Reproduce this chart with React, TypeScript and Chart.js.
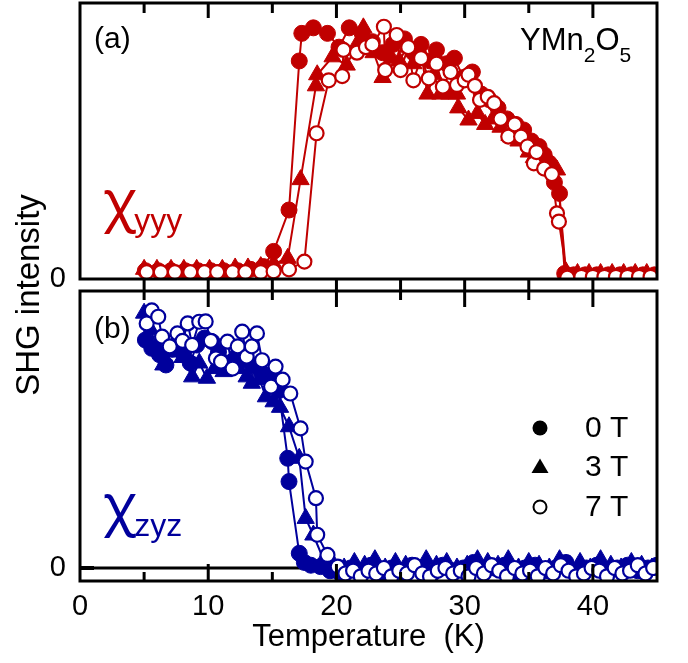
import React, { useEffect, useRef } from 'react';
import { Chart, registerables } from 'chart.js';
Chart.register(...registerables);

const RED = '#C00000';
const BLUE = '#00009C';
const FONT = "'Liberation Sans', Arial, Helvetica, sans-serif";
const GREEK = "'Noto Sans', 'DejaVu Sans', sans-serif";

// ---- axes ----
const xMin = 0;
const xMax = 45;
const xLabeled = [0, 10, 20, 30, 40];
const xMinorTicks = [5, 10, 15, 20, 25, 30, 35, 40];
const yTickValues = [0];
const seriesLabels = ['0 T', '3 T', '7 T'];

// ---- panel (a): chi_yyy ----
const aT0 = [5.1,6.1,7.1,8.2,9.2,10.2,11.2,12.3,13.3,14.3,15.1,16.3,17.1,17.3,18.2,19.3,20.2,21.0,22.0,22.8,23.6,24.4,25.3,26.0,26.6,27.3,27.8,28.6,29.2,29.9,30.6,31.3,31.9,32.6,33.3,34.0,34.6,35.2,35.8,36.2,36.6,37.0,37.4,37.8,38.5,39.4,40.3,41.2,42.1,43.0,43.9,44.8];
const aV0 = [3,3,3,3,3,3,3,3,3.5,4.5,10,25,79,89,91,89,84,91,89,86,82,85,87,82,85,79,83,78,80,73,75,67,65,62,58,56,54,50,48,45,42,35,31,2,1.5,1.5,1.5,1.5,1.5,1.5,1.5,1.5];
const aT3 = [5.0,6.0,7.1,8.1,9.1,10.1,11.1,12.1,13.1,14.1,15.1,16.2,17.2,18.4,18.5,19.7,20.8,21.6,22.1,22.9,23.6,24.3,24.9,25.5,26.0,26.6,27.1,27.6,28.1,28.8,29.4,29.5,30.3,31.0,31.6,32.2,32.8,33.5,34.2,35.0,35.4,36.0,36.6,37.2,37.9,38.8,39.7,40.6,41.5,42.4,43.3,44.2];
const aV3 = [3.5,3.5,3.5,3.5,3.5,3.5,3.5,4,4,4.5,5.5,7.5,36,70,74,80.5,77.5,85,91,82,73,80,79,84,78,82,67,74,67,67,67,62,57.6,60,56,58,55,52,50,46,44,44,41,39.5,2.6,2,2,2,2,2,2,2];
const aT7 = [5.2,6.3,7.4,8.6,9.7,10.7,11.9,12.9,14.1,15.1,16.3,17.5,18.45,19.4,20.45,20.55,21.6,22.3,22.8,23.7,23.8,24.7,25.0,25.6,26.0,26.6,27.2,27.8,28.3,28.9,29.4,30.0,30.3,30.8,31.2,31.8,32.3,32.8,33.4,33.9,34.4,34.9,35.4,35.6,36.2,36.8,37.2,37.35,38.0,39.1,40.0,40.9,41.8,42.7,43.6,44.5];
const aV7 = [2.5,2.5,2.5,2.5,2.5,2.5,2.5,2.5,2.5,2.8,3.5,6.3,52.8,72,73.5,83,82,84,85,91.4,75.7,88.4,75.7,84,72,80,72.7,78,69.7,75,70.3,72,74,70,64.9,66,63.7,58,51.6,56,51.6,48,41.9,46,40,38,23.8,20.8,0.5,0.8,0.8,0.8,0.8,0.8,0.8,0.8];

// ---- panel (b): chi_zyz ----
const bT0 = [5.1,5.6,6.2,6.7,7.2,7.6,8.1,8.6,9.1,9.7,10.3,10.8,11.4,12.0,12.5,13.0,13.5,14.1,14.6,15.1,15.5,16.2,16.3,17.1,17.5,18.0,18.75,19.5,20.3,21.1,21.9,22.7,23.5,24.3,25.1,25.9,26.7,27.5,28.3,29.1,29.9,30.7,31.5,32.3,33.1,33.9,34.7,35.5,36.3,37.1,37.9,38.7,39.5,40.3,41.1,41.9,42.7,43.5,44.3,45.0];
const bV0 = [82.3,79.3,77,73.3,79,81.1,77,74,80.5,83,81.7,78,74,75,78,75,73,70.9,69,68,64,39.6,31.2,5.3,2,1,0.5,-1,-2,0,-1,1,-2,0,-1,1,0,-2,1,-1,0,2,-1,0,1,-2,0,1,-1,0,2,-1,0,1,-2,0,1,-1,0,1];
const bT3 = [5.0,5.5,6.0,6.5,7.0,7.5,8.0,8.75,9.3,9.9,10.5,11.2,11.8,12.4,13.0,13.4,14.0,14.5,15.1,15.6,16.3,17.1,17.6,18.2,19.0,19.8,20.6,21.4,22.2,23.0,23.8,24.6,25.4,26.2,27.0,27.8,28.6,29.4,30.2,31.0,31.8,32.6,33.4,34.2,35.0,35.8,36.6,37.4,38.2,39.0,39.8,40.6,41.4,42.2,43.0,43.8,44.6];
const bV3 = [92,86,80,73.3,78,82,76,69,74,68.5,72,70.9,75,72,69,66.7,68,61.8,60,58,51,39.6,17.9,11.9,3,1,0,2,1,3,0,2,1,0,3,1,2,0,1,3,2,1,3,0,2,1,0,3,1,2,0,3,1,0,2,1,0];
const bT7 = [5.2,5.6,6.1,6.4,7.0,7.6,8.0,8.4,8.75,9.3,9.8,10.2,10.6,11.0,11.5,11.9,12.3,12.65,13.0,13.4,13.8,14.2,14.9,15.25,15.8,16.4,17.2,17.6,18.4,18.5,19.3,20.1,20.7,21.3,21.9,22.5,23.1,23.7,24.3,24.9,25.5,26.1,26.7,27.3,27.9,28.5,29.1,29.7,30.3,30.9,31.5,32.1,32.7,33.3,33.9,34.5,35.1,35.7,36.3,36.9,37.5,38.1,38.7,39.3,39.9,40.5,41.1,41.7,42.3,42.9,43.5,44.1,44.7];
const bV7 = [88.3,93,90.7,83.5,80,84.7,82,88.3,80.5,88.9,89,82,75.7,74.5,81.7,72,80,85.3,76.3,80,84.7,75,65.5,72.7,68,63,50.4,38.4,25.2,12,4.7,0.5,-2,-1,-3,-1,-2,0,-3,-1,-2,1,-2,-3,-1,0,-2,-1,-3,0,-2,1,-1,-3,0,-2,-1,-3,0,-2,1,-1,-3,-2,0,-1,-3,0,-2,-1,1,-2,0];

type Style = 'filled' | 'tri' | 'open';

function ds(label: string, xs: number[], ys: number[], color: string, style: Style) {
  return {
    label,
    data: xs.map((x, i) => ({ x, y: ys[i] })),
    borderColor: color,
    borderWidth: 2,
    pointStyle: style === 'tri' ? 'triangle' : 'circle',
    pointRadius: style === 'tri' ? 10 : style === 'open' ? 7 : 8,
    pointBorderWidth: style === 'open' ? 2.2 : 1,
    pointBackgroundColor: style === 'open' ? '#ffffff' : color,
    pointBorderColor: color,
    fill: false,
    tension: 0,
    clip: 0,
  };
}

function txt(ctx: CanvasRenderingContext2D, s: string, x: number, y: number, size: number, color: string, align: CanvasTextAlign = 'left', base: CanvasTextBaseline = 'alphabetic', family: string = FONT) {
  ctx.font = `${size}px ${family}`;
  ctx.fillStyle = color;
  ctx.textAlign = align;
  ctx.textBaseline = base;
  ctx.fillText(s, x, y);
  return ctx.measureText(s).width;
}

function drawFrame(chart: any) {
  const { ctx, chartArea: a } = chart;
  ctx.save();
  ctx.strokeStyle = '#000';
  ctx.lineWidth = 3;
  ctx.strokeRect(a.left, a.top, a.right - a.left, a.bottom - a.top);
  ctx.restore();
}

function tickLine(ctx: CanvasRenderingContext2D, x: number, y1: number, y2: number) {
  ctx.beginPath();
  ctx.moveTo(x, y1);
  ctx.lineTo(x, y2);
  ctx.stroke();
}

const topPlugin = {
  id: 'topDecor',
  afterDatasetsDraw(chart: any) {
    const { ctx, chartArea: a, scales } = chart;
    drawFrame(chart);
    ctx.save();
    ctx.strokeStyle = '#000';
    ctx.lineWidth = 3;
    xMinorTicks.forEach((t) => {
      const px = scales.x.getPixelForValue(t);
      tickLine(ctx, px, a.top, a.top + (t % 10 === 0 ? 15 : 10));
    });
    txt(ctx, '(a)', 94, 48, 30, '#000');
    let x = 520;
    x += txt(ctx, 'YMn', x, 50, 31, '#000');
    x += txt(ctx, '2', x, 62, 21, '#000');
    x += txt(ctx, 'O', x, 50, 31, '#000');
    txt(ctx, '5', x, 62, 21, '#000');
    const w = txt(ctx, 'χ', 103, 220, 56, RED, 'left', 'alphabetic', GREEK);
    txt(ctx, 'yyy', 101 + w, 231, 32, RED);
    ctx.restore();
  },
};

const botPlugin = {
  id: 'botDecor',
  beforeDatasetsDraw(chart: any) {
    const { ctx, chartArea: a, scales } = chart;
    const y0 = scales.y.getPixelForValue(0);
    ctx.save();
    ctx.strokeStyle = '#000';
    ctx.lineWidth = 3;
    ctx.beginPath();
    ctx.moveTo(a.left, y0);
    ctx.lineTo(a.right, y0);
    ctx.stroke();
    ctx.lineWidth = 4;
    ctx.beginPath();
    ctx.moveTo(a.left, y0);
    ctx.lineTo(a.left + 14, y0);
    ctx.stroke();
    ctx.restore();
  },
  afterDatasetsDraw(chart: any) {
    const { ctx, chartArea: a, scales } = chart;
    drawFrame(chart);
    ctx.save();
    ctx.strokeStyle = '#000';
    ctx.lineWidth = 3;
    xMinorTicks.forEach((t) => {
      const px = scales.x.getPixelForValue(t);
      const major = t % 10 === 0;
      tickLine(ctx, px, a.top - 11, a.top + (major ? 16 : 9));
      tickLine(ctx, px, a.bottom, a.bottom - (major ? 17 : 9));
    });
    txt(ctx, '(b)', 94, 338, 30, '#000');
    const w = txt(ctx, 'χ', 103, 524, 56, BLUE, 'left', 'alphabetic', GREEK);
    txt(ctx, 'zyz', 101 + w, 536, 32, BLUE);

    // legend
    const lx = 540;
    const rows = [428, 467, 507];
    ctx.fillStyle = '#000';
    ctx.strokeStyle = '#000';
    ctx.beginPath();
    ctx.arc(lx, rows[0], 7.5, 0, Math.PI * 2);
    ctx.fill();
    ctx.beginPath();
    ctx.moveTo(lx, rows[1] - 8.5);
    ctx.lineTo(lx + 8.5, rows[1] + 6);
    ctx.lineTo(lx - 8.5, rows[1] + 6);
    ctx.closePath();
    ctx.fill();
    ctx.lineWidth = 2;
    ctx.beginPath();
    ctx.arc(lx, rows[2], 6.5, 0, Math.PI * 2);
    ctx.stroke();
    seriesLabels.forEach((s, i) => txt(ctx, s, 585, rows[i] + 1, 30, '#000', 'left', 'middle'));

    // shared y title
    ctx.translate(30, 295);
    ctx.rotate(-Math.PI / 2);
    txt(ctx, 'SHG intensity', 0, 0, 33, '#000', 'center', 'middle');
    ctx.restore();
  },
};

function yAxis(min: number, max: number) {
  return {
    type: 'linear' as const,
    min,
    max,
    grid: { display: false },
    border: { display: false },
    ticks: {
      color: '#000',
      font: { family: FONT, size: 29 },
      padding: 6,
      callback: (v: number) => String(v),
    },
    afterBuildTicks: (s: any) => {
      s.ticks = yTickValues.map((v) => ({ value: v }));
    },
    afterFit: (s: any) => {
      s.width = 80;
      s.paddingTop = 0;
      s.paddingBottom = 0;
    },
  };
}

export default function App() {
  const topRef = useRef<HTMLCanvasElement>(null);
  const botRef = useRef<HTMLCanvasElement>(null);

  useEffect(() => {
    const common = {
      responsive: false,
      animation: false as const,
      devicePixelRatio: 1,
      events: [] as any[],
      plugins: { legend: { display: false }, tooltip: { enabled: false } },
    };
    const top = new Chart(topRef.current!, {
      type: 'line',
      data: {
        datasets: [
          ds(seriesLabels[2], aT7, aV7, RED, 'open'),
          ds(seriesLabels[1], aT3, aV3, RED, 'tri'),
          ds(seriesLabels[0], aT0, aV0, RED, 'filled'),
        ],
      },
      options: {
        ...common,
        layout: { autoPadding: false, padding: { top: 3, right: 31, bottom: 11, left: 0 } },
        scales: {
          x: { type: 'linear', min: xMin, max: xMax, display: false },
          y: yAxis(0, 100),
        },
      } as any,
      plugins: [topPlugin],
    } as any);

    const bot = new Chart(botRef.current!, {
      type: 'line',
      data: {
        datasets: [
          ds(seriesLabels[2], bT7, bV7, BLUE, 'open'),
          ds(seriesLabels[1], bT3, bV3, BLUE, 'tri'),
          ds(seriesLabels[0], bT0, bV0, BLUE, 'filled'),
        ],
      },
      options: {
        ...common,
        layout: { autoPadding: false, padding: { top: 291, right: 31, bottom: 0, left: 0 } },
        scales: {
          x: {
            type: 'linear',
            min: xMin,
            max: xMax,
            grid: { display: false },
            border: { display: false },
            ticks: {
              stepSize: 5,
              autoSkip: false,
              maxRotation: 0,
              color: '#000',
              padding: 1,
              font: { family: FONT, size: 29 },
              callback: (v: number) => (xLabeled.includes(v) ? String(v) : ''),
            },
            title: {
              display: true,
              text: 'Temperature  (K)',
              color: '#000',
              font: { family: FONT, size: 31 },
              padding: { top: 0, bottom: 7 },
            },
            afterFit: (s: any) => {
              s.height = 82;
              s.paddingLeft = 0;
              s.paddingRight = 0;
            },
          },
          y: yAxis(-4.7, 100),
        },
      } as any,
      plugins: [botPlugin],
    } as any);

    return () => {
      top.destroy();
      bot.destroy();
    };
  }, []);

  return (
    <div style={{ position: 'fixed', left: 0, top: 0, width: 688, height: 663, background: '#ffffff' }}>
      <canvas ref={botRef} width={688} height={663} style={{ position: 'absolute', left: 0, top: 0, width: 688, height: 663 }} />
      <canvas ref={topRef} width={688} height={290} style={{ position: 'absolute', left: 0, top: 0, width: 688, height: 290 }} />
    </div>
  );
}
